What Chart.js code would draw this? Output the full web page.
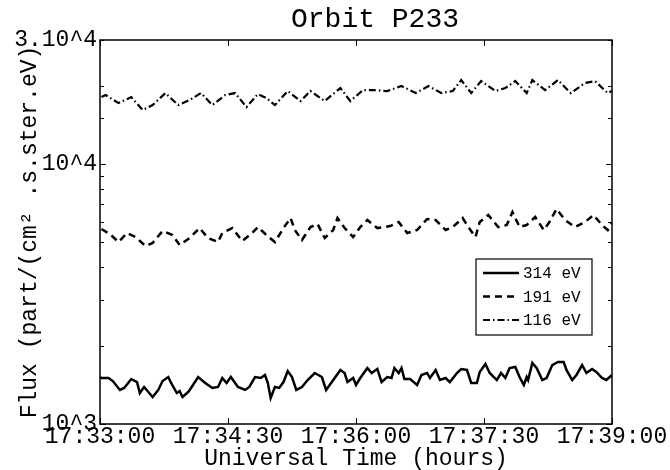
<!DOCTYPE html>
<html>
<head>
<meta charset="utf-8">
<script src="https://cdn.jsdelivr.net/npm/chart.js@4.4.1/dist/chart.umd.min.js"></script>
<style>
html, body { margin: 0; padding: 0; background: #fff; }
</style>
</head>
<body>
<canvas id="chart" width="670" height="470"></canvas>
<script>
// seconds after 17:33:00, flux in part/(cm2.s.ster.eV)
const t314 = [0, 1, 6, 9, 14, 17, 22, 26, 28, 31, 34, 37, 41, 44, 48, 50, 54, 56, 58, 62, 64, 69, 74, 79, 83, 86, 89, 92, 97, 102, 105, 109, 113, 116, 118, 120, 123, 126, 129, 132, 135, 138, 142, 146, 151, 156, 159, 163, 165, 169, 172, 174, 178, 180, 183, 188, 191, 195, 198, 202, 205, 207, 210, 212, 214, 218, 223, 226, 230, 232, 236, 239, 243, 246, 251, 254, 258, 261, 265, 267, 271, 274, 279, 282, 285, 288, 292, 295, 298, 300, 301, 304, 307, 311, 314, 318, 322, 326, 328, 332, 335, 339, 342, 346, 349, 353, 356, 360];
const flux314 = [1516, 1503, 1503, 1463, 1352, 1376, 1490, 1450, 1316, 1388, 1327, 1270, 1352, 1463, 1516, 1438, 1316, 1339, 1270, 1327, 1376, 1516, 1438, 1376, 1388, 1503, 1438, 1516, 1388, 1352, 1388, 1516, 1503, 1544, 1438, 1259, 1388, 1376, 1450, 1599, 1516, 1352, 1388, 1476, 1571, 1516, 1352, 1450, 1503, 1614, 1571, 1450, 1503, 1413, 1503, 1642, 1571, 1628, 1450, 1516, 1503, 1642, 1571, 1642, 1490, 1490, 1413, 1544, 1571, 1503, 1614, 1476, 1503, 1450, 1571, 1628, 1614, 1438, 1438, 1585, 1701, 1571, 1476, 1571, 1503, 1642, 1657, 1516, 1413, 1516, 1476, 1717, 1642, 1476, 1503, 1686, 1732, 1732, 1614, 1476, 1544, 1686, 1571, 1628, 1585, 1503, 1476, 1544];

const t191 = [1, 7, 13, 19, 25, 32, 37, 44, 51, 56, 63, 70, 76, 83, 86, 93, 100, 107, 111, 117, 123, 129, 134, 137, 142, 148, 153, 158, 164, 167, 172, 178, 183, 188, 195, 204, 210, 216, 223, 230, 236, 243, 248, 255, 259, 264, 267, 273, 280, 286, 290, 295, 300, 306, 312, 316, 321, 327, 334, 341, 347, 353, 357, 360];
const flux191 = [5623, 5380, 5012, 5428, 5240, 4837, 4968, 5525, 5333, 4880, 5193, 5672, 5193, 5012, 5428, 5672, 5057, 5428, 5722, 5333, 5012, 5672, 6199, 5574, 5102, 5722, 5877, 5193, 5574, 6199, 5672, 5240, 5722, 6090, 5672, 5773, 5983, 5428, 5574, 6144, 6090, 5574, 5722, 6199, 5722, 5240, 5983, 6366, 5722, 5825, 6537, 5722, 5825, 6255, 5574, 5983, 6713, 6090, 5722, 5983, 6366, 5825, 5574, 5930];

const t116 = [1, 4, 13, 22, 30, 37, 46, 55, 63, 71, 79, 88, 95, 103, 111, 117, 123, 132, 141, 148, 158, 169, 176, 185, 192, 202, 212, 222, 231, 240, 248, 254, 261, 268, 278, 285, 292, 300, 304, 313, 322, 331, 341, 348, 357, 360];
const flux116 = [18097, 18420, 17161, 18097, 16130, 16860, 18750, 16860, 17625, 18750, 16860, 18420, 18750, 16565, 18582, 17939, 16860, 19087, 17468, 19087, 17468, 19603, 17468, 19256, 19256, 19087, 19953, 18750, 19953, 18750, 19087, 21043, 18750, 20856, 19087, 19603, 20856, 18750, 21043, 19256, 21043, 18750, 20489, 20856, 18750, 19087];

const seriesLabels = ['314 eV', '191 eV', '116 eV'];
const xTickLabels = ['17:33:00', '17:34:30', '17:36:00', '17:37:30', '17:39:00'];
const yTickValues = [1000, 10000, 30000];
const yTickLabels = ['10^3', '10^4', '3.10^4'];

const mono = "'Liberation Mono', 'DejaVu Sans Mono', monospace";

function points(t, f) {
    return t.map((v, i) => ({ x: v, y: f[i] }));
}

// frame, inward ticks, title and boxed legend
const decorations = {
    id: 'decorations',
    afterDraw(chart) {
        const ctx = chart.ctx;
        const a = chart.chartArea;
        const xs = chart.scales.x;
        const ys = chart.scales.y;
        ctx.save();
        ctx.strokeStyle = '#000';
        ctx.lineWidth = 1.5;
        ctx.strokeRect(a.left, a.top, a.right - a.left, a.bottom - a.top);

        ctx.lineWidth = 1;
        ctx.beginPath();
        ys.ticks.forEach((tk) => {
            const py = Math.round(ys.getPixelForValue(tk.value)) + 0.5;
            const lg = Math.log10(tk.value);
            const len = Math.abs(lg - Math.round(lg)) < 1e-9 ? 6 : 4;
            ctx.moveTo(a.left, py); ctx.lineTo(a.left + len, py);
            ctx.moveTo(a.right, py); ctx.lineTo(a.right - len, py);
        });
        xs.ticks.forEach((tk) => {
            const px = Math.round(xs.getPixelForValue(tk.value)) + 0.5;
            ctx.moveTo(px, a.top); ctx.lineTo(px, a.top + 6);
            ctx.moveTo(px, a.bottom); ctx.lineTo(px, a.bottom - 6);
        });
        ctx.stroke();

        ctx.fillStyle = '#000';
        ctx.font = '28px ' + mono;
        ctx.textAlign = 'center';
        ctx.textBaseline = 'middle';
        ctx.fillText('Orbit P233', 375, 20);

        // legend box
        const lx = 476, ly = 259, lw = 116, lh = 76;
        ctx.fillStyle = '#fff';
        ctx.fillRect(lx, ly, lw, lh);
        ctx.lineWidth = 1.2;
        ctx.strokeRect(lx, ly, lw, lh);
        ctx.font = '16px ' + mono;
        ctx.textAlign = 'left';
        chart.data.datasets.forEach((ds, i) => {
            const y = ly + 14 + i * 23.5;
            ctx.strokeStyle = ds.borderColor;
            ctx.lineWidth = ds.borderWidth;
            ctx.setLineDash(ds.borderDash || []);
            ctx.beginPath();
            ctx.moveTo(lx + 7, y);
            ctx.lineTo(lx + 43, y);
            ctx.stroke();
            ctx.setLineDash([]);
            ctx.fillStyle = '#000';
            ctx.fillText(ds.label, lx + 47, y + 1);
        });
        ctx.restore();
    }
};

new Chart(document.getElementById('chart').getContext('2d'), {
    type: 'line',
    data: {
        datasets: [{
            label: seriesLabels[0],
            data: points(t314, flux314),
            borderColor: '#000',
            borderWidth: 2.5,
            pointRadius: 0
        }, {
            label: seriesLabels[1],
            data: points(t191, flux191),
            borderColor: '#000',
            borderWidth: 2.5,
            borderDash: [7, 5],
            pointRadius: 0
        }, {
            label: seriesLabels[2],
            data: points(t116, flux116),
            borderColor: '#000',
            borderWidth: 2.2,
            borderDash: [7, 3, 1.5, 3],
            pointRadius: 0
        }]
    },
    options: {
        responsive: false,
        animation: false,
        layout: { padding: { top: 40, right: 58, left: 0, bottom: 0 } },
        plugins: {
            legend: { display: false },
            title: { display: false },
            tooltip: { enabled: false }
        },
        scales: {
            x: {
                type: 'linear',
                min: 0,
                max: 360,
                grid: { display: false, drawTicks: false },
                border: { display: false },
                ticks: {
                    stepSize: 90,
                    autoSkip: false,
                    maxRotation: 0,
                    padding: -1,
                    color: '#000',
                    font: { family: mono, size: 23 },
                    callback: (v) => xTickLabels[Math.round(v / 90)]
                },
                title: {
                    display: true,
                    text: 'Universal Time (hours)',
                    color: '#000',
                    font: { family: mono, size: 23 },
                    padding: { top: 0, bottom: -3 }
                },
                afterFit: (s) => { s.height = 46; }
            },
            y: {
                type: 'logarithmic',
                min: 1000,
                max: 30000,
                grid: { display: false, drawTicks: false },
                border: { display: false },
                ticks: {
                    autoSkip: false,
                    padding: 3,
                    color: '#000',
                    font: { family: mono, size: 23 },
                    callback: (v) => {
                        const i = yTickValues.indexOf(v);
                        return i < 0 ? '' : yTickLabels[i];
                    }
                },
                title: {
                    display: true,
                    text: 'Flux (part/(cm² .s.ster.eV)',
                    color: '#000',
                    font: { family: mono, size: 23 },
                    padding: { top: 16, bottom: 0 }
                },
                afterFit: (s) => { s.width = 100; }
            }
        }
    },
    plugins: [decorations]
});
</script>
</body>
</html>
